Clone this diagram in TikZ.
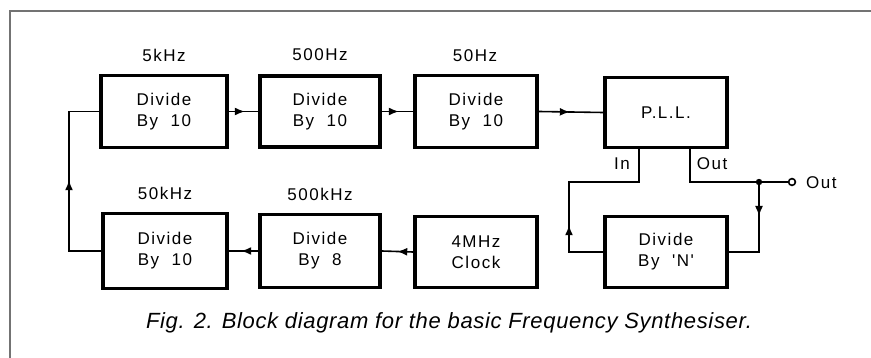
\documentclass[tikz,border=0pt]{standalone}
\usepackage{fontspec}
\setmainfont{Liberation Sans}
\newfontfamily\boxfont[LetterSpace=9]{Liberation Sans}
\newfontfamily\capfont[LetterSpace=3]{Liberation Sans}
\usetikzlibrary{arrows.meta,decorations.markings}
\begin{document}
\begin{tikzpicture}[x=1pt,y=-1pt,
  blk/.style={draw, line width=3.6pt, minimum width=122pt, minimum height=71pt,
    align=center, inner sep=0pt, font=\boxfont\fontsize{17}{21}\selectfont},
  lbl/.style={inner sep=0pt, font=\boxfont\fontsize{17}{18}\selectfont},
  wire/.style={line width=1.6pt},
  midarr/.style={postaction={decorate}, decoration={markings,
    mark=at position #1 with {\arrow{Latex[length=10pt,width=8pt]}}}},
  frame/.style={draw=black!55, line width=1.1pt}]
\useasboundingbox (0,0) rectangle (871,358);
% frame
\draw[frame] (10,358) -- (10,11) -- (871,11);
% top row
\node[blk, minimum width=126pt, minimum height=72pt] (b1) at (164,111.5) {Divide\\By~~10};
\node[blk, minimum width=120pt] (b2) at (320,111.5) {Divide\\By~~10};
\node[blk, minimum height=72pt] (b3) at (476,111.5) {Divide\\By~~10};
\node[blk, minimum height=70pt] (pll) at (666,112.5) {P.L.L.};
% bottom row
\node[blk, minimum width=124pt, minimum height=75pt] (b4) at (165,251) {Divide\\By~~10};
\node[blk, minimum width=120pt, minimum height=73pt] (b5) at (320,251) {Divide\\By~~8};
\node[blk] (b6) at (476,252) {4MHz\\Clock};
\node[blk] (dn) at (666,252) {Divide\\By~~'N'};
% frequency labels
\node[lbl] (l1) at (164,55) {5kHz};
\node[lbl] (l2) at (320,55) {500Hz};
\node[lbl] (l3) at (475,56) {50Hz};
\node[lbl] (l4) at (165,193) {50kHz};
\node[lbl] (l5) at (320,194) {500kHz};
% connectors top row
\draw[wire, midarr=16pt] (b1.east) -- (b2.west);
\draw[wire, midarr=17pt] (b2.east) -- (b3.west);
\draw[wire, midarr=31pt] (b3.east) -- (pll.west);
% connectors bottom row
\draw[wire, midarr=16pt] (b6.west) -- (b5.east);
\draw[wire, midarr=17pt] (b5.west) -- (b4.east);
% loop up to 5kHz divider
\coordinate (lp) at (69,251);
\draw[wire, midarr=103pt] (b4.west) -- (lp) |- (b1.west);
% PLL in/out
\coordinate (pin) at ([xshift=-27pt]pll.south);
\coordinate (pout) at ([xshift=24pt]pll.south);
\coordinate (fb) at (569,182);
\coordinate (dot) at (759,182);
\coordinate (oc) at (792,182);
\draw[wire, midarr=61pt] (dn.west) -| (fb) -| (pin);
\draw[wire] (pout) |- (dot) -- (oc);
\draw[wire, midarr=34pt] (dot) |- (dn.east);
\fill (dot) circle (3.2pt);
\draw[wire, fill=white] (oc) circle (3.4pt);
\node[lbl, anchor=west] (outl) at (806,183) {Out};
\node[lbl] (inl) at (622,164) {In};
\node[lbl] (pol) at (712,164) {Out};
% caption
\node[inner sep=0pt, font=\capfont\itshape\fontsize{22}{26}\selectfont] (cap) at (449,323)
  {Fig. 2. Block diagram for the basic Frequency Synthesiser.};
\end{tikzpicture}
\end{document}
